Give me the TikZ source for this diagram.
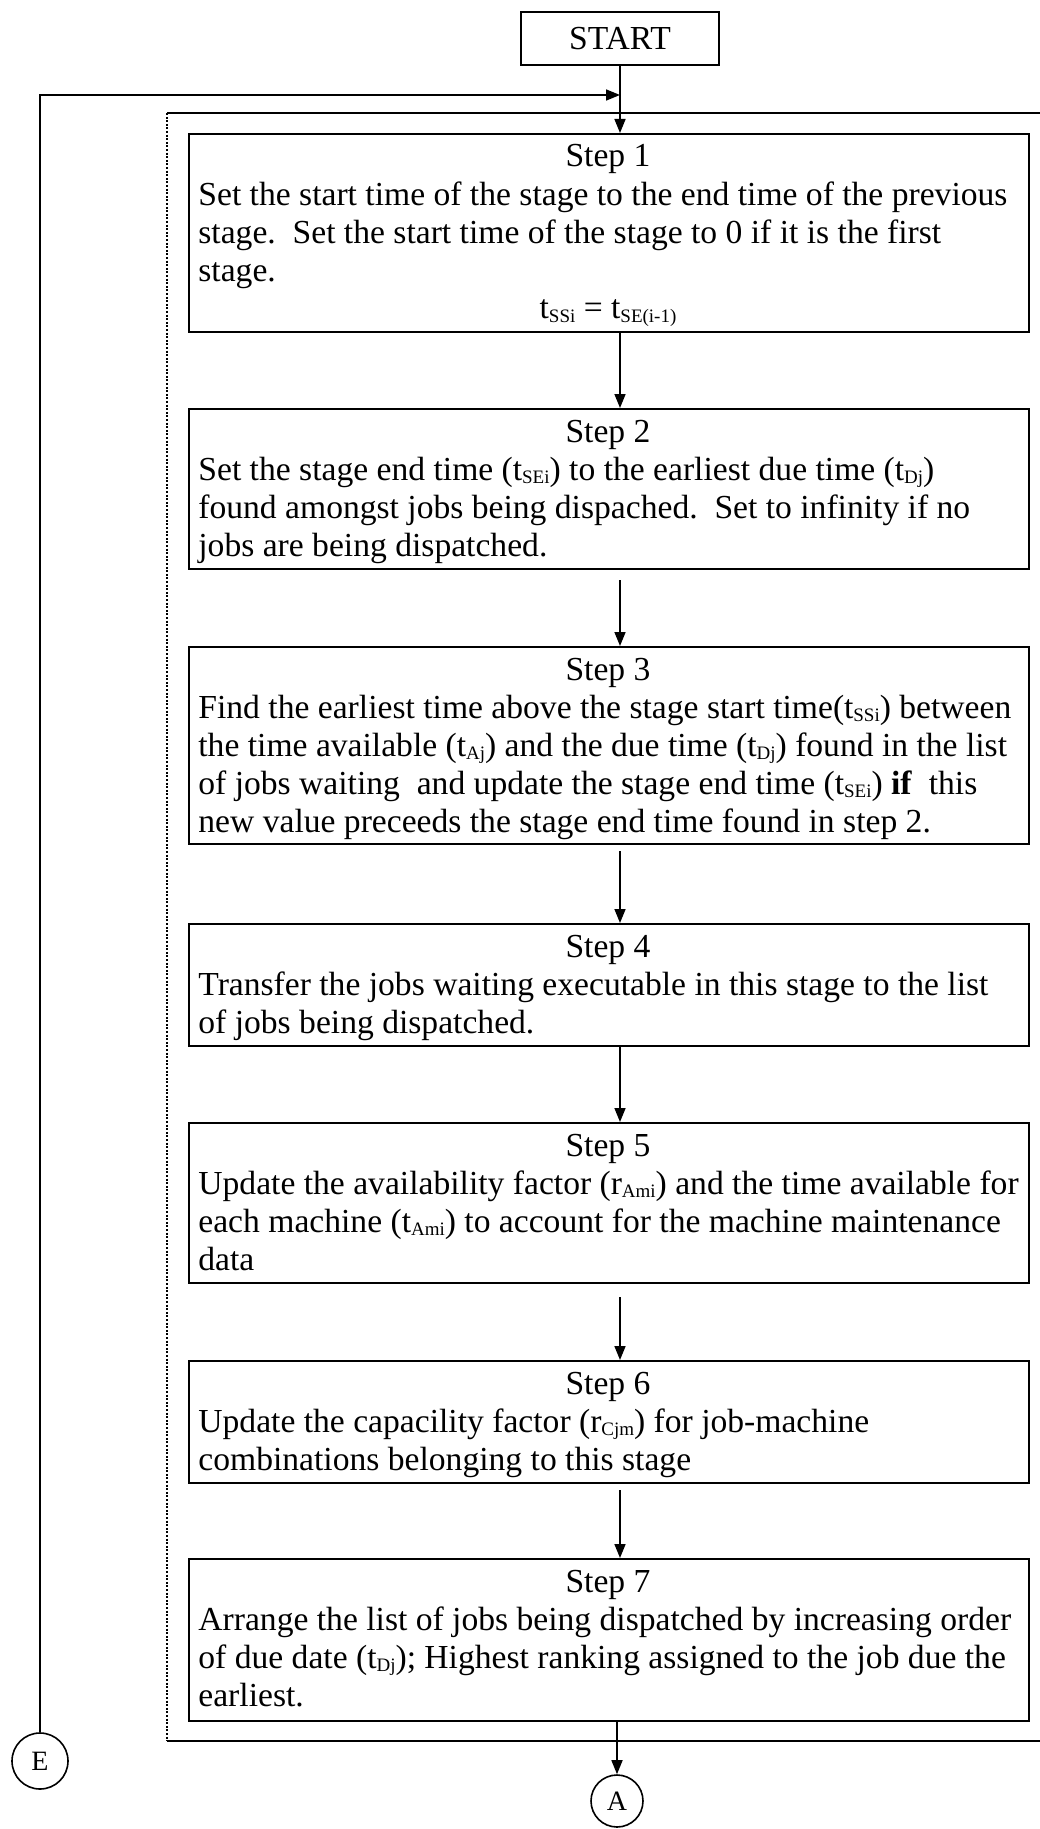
\documentclass[tikz,border=0pt]{standalone}
\usepackage{fontspec}
\setmainfont{Liberation Serif}
\usetikzlibrary{arrows.meta,calc}

% small lowered index used in the variable names
\newcommand\idx[1]{\raisebox{-1.6pt}{\fontsize{9.5}{10}\selectfont #1}}

\tikzset{
  stepframe/.style={draw, line width=1pt, rectangle, inner sep=0pt,
    anchor=north west, minimum width=420pt},
  steptitle/.style={anchor=base, inner sep=0pt},
  stepbody/.style={anchor=north west, inner sep=0pt, align=left},
  startbox/.style={draw, line width=1pt, rectangle, inner sep=0pt,
    minimum width=99pt, minimum height=26.5pt},
  flow/.style={line width=0.8pt, -{Triangle[length=7pt,width=5.5pt]}},
  offpage/.style={circle, draw, line width=0.8pt, inner sep=0pt,
    font=\fontsize{14}{16}\selectfont},
  stagerule/.style={line width=0.9pt},
  stageside/.style={line width=0.7pt, dash pattern=on 1pt off 0.8pt},
}

\begin{document}
\begin{tikzpicture}[x=0.5pt, y=-0.5pt, font=\fontsize{16.8}{19}\selectfont]
\useasboundingbox (0,0) rectangle (1039,1829);

% start of the procedure
\node[startbox] (start) at (620,38.5) {START};

% frame enclosing one stage (steps 1 to 7)
\coordinate (ftl) at (167,113);
\coordinate (fbl) at (167,1741);
\draw[stagerule] (1045,113) -- (ftl);
\draw[stagerule] (fbl) -- (1045,1741);
\draw[stageside] (ftl) -- (fbl);

% Step 1
\node[stepframe, minimum height=99pt] (s1) at (188,133) {};
\node[steptitle] (s1t) at (608,167) {Step 1};
\node[stepbody] (s1b) at (198,178.4) {\strut Set the start time of the stage to the end time of the previous\\
stage.\ \ Set the start time of the stage to 0 if it is the first\\
stage.};
\node[steptitle] (s1eq) at (608,319) {t\idx{SSi} = t\idx{SE(i-1)}};

% Step 2
\node[stepframe, minimum height=80pt] (s2) at (188,408) {};
\node[steptitle] (s2t) at (608,442) {Step 2};
\node[stepbody] (s2b) at (198,453.4) {\strut Set the stage end time (t\idx{SEi}) to the earliest due time (t\idx{Dj})\\
found amongst jobs being dispached.\ \ Set to infinity if no\\
jobs are being dispatched.};

% Step 3
\node[stepframe, minimum height=98.5pt] (s3) at (188,646) {};
\node[steptitle] (s3t) at (608,680) {Step 3};
\node[stepbody] (s3b) at (198,691.4) {\strut Find the earliest time above the stage start time(t\idx{SSi}) between\\
the time available (t\idx{Aj}) and the due time (t\idx{Dj}) found in the list\\
of jobs waiting\ \ and update the stage end time (t\idx{SEi}) \textbf{if}\ \ this\\
new value preceeds the stage end time found in step 2.};

% Step 4
\node[stepframe, minimum height=61pt] (s4) at (188,923) {};
\node[steptitle] (s4t) at (608,957) {Step 4};
\node[stepbody] (s4b) at (198,968.4) {\strut Transfer the jobs waiting executable in this stage to the list\\
of jobs being dispatched.};

% Step 5
\node[stepframe, minimum height=80pt] (s5) at (188,1122) {};
\node[steptitle] (s5t) at (608,1156) {Step 5};
\node[stepbody] (s5b) at (198,1167.4) {\strut Update the availability factor (r\idx{Ami}) and the time available for\\
each machine (t\idx{Ami}) to account for the machine maintenance\\
data};

% Step 6
\node[stepframe, minimum height=61pt] (s6) at (188,1360) {};
\node[steptitle] (s6t) at (608,1394) {Step 6};
\node[stepbody] (s6b) at (198,1405.4) {\strut Update the capacility factor (r\idx{Cjm}) for job-machine\\
combinations belonging to this stage};

% Step 7
\node[stepframe, minimum height=81pt] (s7) at (188,1558) {};
\node[steptitle] (s7t) at (608,1592) {Step 7};
\node[stepbody] (s7b) at (198,1603.4) {\strut Arrange the list of jobs being dispatched by increasing order\\
of due date (t\idx{Dj}); Highest ranking assigned to the job due the\\
earliest.};

% off-page connectors
\node[offpage, minimum size=28pt] (E) at (40,1761) {E};
\node[offpage, minimum size=26pt] (A) at (617,1801) {A};

% flow between the steps
\coordinate (loopjoin) at (620,95);
\draw[flow] (E.north) |- (loopjoin);
\draw[flow] (start.south) -- (start.south |- s1.north);
\draw[flow] (s1.south -| start) -- (s2.north -| start);
\draw[flow, shorten <=5pt] (s2.south -| start) -- (s3.north -| start);
\draw[flow, shorten <=3pt] (s3.south -| start) -- (s4.north -| start);
\draw[flow] (s4.south -| start) -- (s5.north -| start);
\draw[flow, shorten <=6.5pt] (s5.south -| start) -- (s6.north -| start);
\draw[flow, shorten <=3pt] (s6.south -| start) -- (s7.north -| start);
\draw[flow] (s7.south -| A) -- (A.north);
\end{tikzpicture}
\end{document}
